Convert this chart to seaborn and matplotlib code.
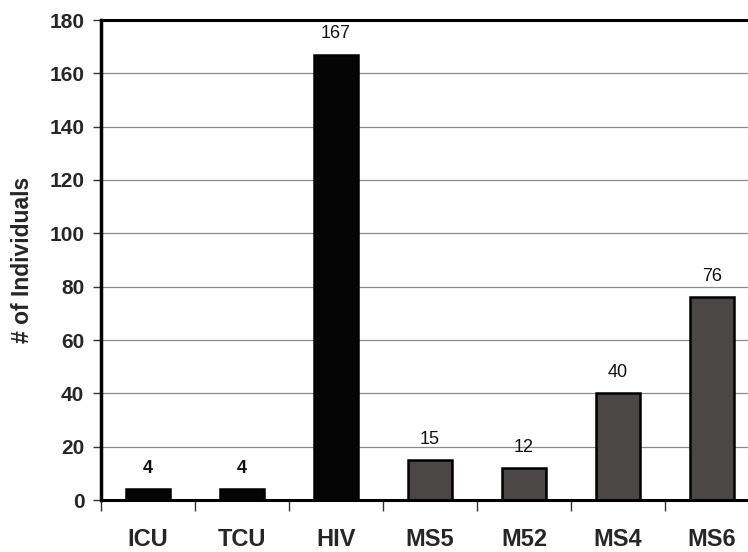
import matplotlib
matplotlib.use("Agg")
import matplotlib.pyplot as plt
import seaborn as sns
import pandas as pd
from matplotlib.ticker import FixedLocator

categories = ["ICU", "TCU", "HIV", "MS5", "M52", "MS4", "MS6"]
values = [4, 4, 167, 15, 12, 40, 76]
bar_colors = ["#050505", "#050505", "#050505", "#4b4747", "#4b4747", "#4b4747", "#4b4747"]
y_ticks = [0, 20, 40, 60, 80, 100, 120, 140, 160, 180]

sns.set_style("white")
plt.rcParams["font.family"] = ["Liberation Sans", "DejaVu Sans"]

df = pd.DataFrame({"cat": categories, "val": values})

fig = plt.figure(figsize=(7.48, 5.52), dpi=100)
ax = fig.add_axes([101/748, 1 - 500/552, 658/748, 480/552])

sns.barplot(data=df, x="cat", y="val", hue="cat", palette=bar_colors,
            order=categories, hue_order=categories, legend=False,
            width=0.46, edgecolor="black", linewidth=1.8, ax=ax, saturation=1)

ax.set_xlim(-0.5, 6.5)
ax.set_ylim(0, 180)
ax.set_yticks(y_ticks)
ax.yaxis.grid(True, color="#8a8a8a", linewidth=0.9)
ax.set_axisbelow(True)

for i, v in enumerate(values):
    weight = "bold" if v == 4 else "normal"
    ax.annotate(str(v), (i, v), xytext=(0, 15), textcoords="offset points",
                ha="center", va="center", fontsize=13, fontweight=weight, color="#111111")

for s in ["left", "bottom", "top"]:
    ax.spines[s].set_visible(True)
    ax.spines[s].set_color("black")
ax.spines["left"].set_linewidth(2.5)
ax.spines["bottom"].set_linewidth(2.2)
ax.spines["top"].set_linewidth(2.2)
ax.spines["right"].set_visible(False)

ax.xaxis.set_minor_locator(FixedLocator([i - 0.5 for i in range(8)]))
ax.tick_params(axis="x", which="major", length=0, pad=20, labelsize=17)
ax.tick_params(axis="x", which="minor", length=8, width=1, color="#333333", direction="out", bottom=True)
ax.tick_params(axis="y", which="major", length=6, width=1, color="#333333", direction="out", left=True, labelsize=15, pad=6)
for lab in ax.get_xticklabels() + ax.get_yticklabels():
    lab.set_fontweight("bold")

ax.set_xlabel("")
ax.set_ylabel("# of Individuals", fontsize=16.5, fontweight="bold", labelpad=11)

fig.savefig("out.png", dpi=100)
